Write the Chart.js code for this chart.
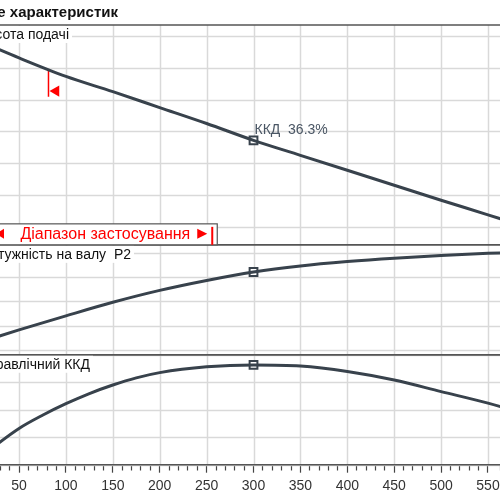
<!DOCTYPE html>
<html>
<head>
<meta charset="utf-8">
<script src="https://cdn.jsdelivr.net/npm/chart.js@4.4.1/dist/chart.umd.min.js"></script>
<style>
  html, body { margin: 0; padding: 0; background: #fff; overflow: hidden; }
</style>
</head>
<body>
<canvas id="c" width="500" height="500"></canvas>
<script>
// flow Q (x axis), head H, shaft power P2, hydraulic efficiency
const flowQ  = [0, 50, 100, 150, 200, 250, 300, 350, 400, 450, 500, 550, 600];
const headH  = [9.93, 9.31, 8.73, 8.25, 7.75, 7.25, 6.72, 6.25, 5.78, 5.31, 4.84, 4.38, 3.91];
const powerP = [0.521, 0.582, 0.640, 0.696, 0.745, 0.786, 0.821, 0.846, 0.864, 0.878, 0.889, 0.898, 0.905];
const effQ   = [0, 25, 50, 75, 100, 125, 150, 175, 200, 250, 300, 350, 400, 450, 500, 550, 600];
const effEta = [0, 7.0, 13.2, 18.0, 22.2, 25.9, 29.0, 31.6, 33.5, 35.6, 36.3, 35.9, 33.9, 30.8, 26.6, 22.4, 17.5];

// duty point
const dutyQ = 300;
const dutyH = 6.72;
const dutyP = 0.821;
const dutyEta = 36.3;

// application range markers
const rangeStartQ = 81.4;
const rangeStartH = [8.94, 8.09];
const rangeArrow = { x: 89.4, y: 8.27 };
const rangeEndQ = 256;

const chartTitle = 'Поле характеристик';
const panelLabels = ['Висота подачі', 'Потужність на валу  P2', 'Гідравлічний ККД'];
const rangeLabel = 'Діапазон застосування';

const family = "'Liberation Sans', Arial, sans-serif";
const curveColor = '#38424c';
const gridColor = '#d9d9d9';
const panelIds = ['yH', 'yP', 'yE'];

const pts = (xs, ys) => xs.map((x, i) => ({ x: x, y: ys[i] }));

const curve = (data, axis) => ({
  data: data,
  yAxisID: axis,
  borderColor: curveColor,
  borderWidth: 3,
  pointRadius: 0,
  cubicInterpolationMode: 'monotone',
  fill: false
});

const duty = (y, axis) => ({
  data: [{ x: dutyQ, y: y }],
  yAxisID: axis,
  showLine: false,
  pointStyle: 'rect',
  pointRadius: 5.5,
  pointBackgroundColor: '#fff',
  pointBorderColor: curveColor,
  pointBorderWidth: 2
});

const yPanel = (weight, order, min, max, step) => ({
  type: 'linear', position: 'left', stack: 'panels', stackWeight: weight, weight: order,
  min: min, max: max,
  ticks: { display: false, stepSize: step, includeBounds: false },
  grid: { display: false, drawTicks: false },
  border: { display: false }
});

const overlay = {
  id: 'overlay',
  // grid under the curves, taken from the scales' own ticks
  beforeDatasetsDraw(chart) {
    const { ctx, chartArea, scales } = chart;
    ctx.save();
    ctx.strokeStyle = gridColor;
    ctx.lineWidth = 1.5;
    panelIds.forEach(id => {
      const s = scales[id];
      s.ticks.forEach(t => {
        const py = Math.round(s.getPixelForValue(t.value)) + 0.5;
        ctx.beginPath();
        ctx.moveTo(0, py);
        ctx.lineTo(chart.width, py);
        ctx.stroke();
      });
    });
    scales.x.ticks.forEach(t => {
      if (t.value % 50 !== 0) return;
      const px = Math.round(scales.x.getPixelForValue(t.value)) + 0.5;
      ctx.beginPath();
      ctx.moveTo(px, chartArea.top);
      ctx.lineTo(px, chartArea.bottom);
      ctx.stroke();
    });
    ctx.restore();
  },
  afterDraw(chart) {
    const { ctx, chartArea, scales } = chart;
    const x = scales.x;
    ctx.save();

    // panel frames
    ctx.strokeStyle = '#555';
    ctx.lineWidth = 1.5;
    panelIds.forEach(id => {
      const s = scales[id];
      [s.top, s.bottom].forEach(py => {
        ctx.beginPath();
        ctx.moveTo(0, py);
        ctx.lineTo(chart.width, py);
        ctx.stroke();
      });
    });

    // title
    ctx.fillStyle = '#111';
    ctx.font = 'bold 15px ' + family;
    ctx.textAlign = 'right';
    ctx.textBaseline = 'middle';
    ctx.fillText(chartTitle, chartArea.left + 118, chartArea.top - 12);

    // panel labels on white
    const labelRight = [69, 131, 90];
    panelIds.forEach((id, i) => {
      const top = scales[id].top;
      ctx.font = '14px ' + family;
      const w = ctx.measureText(panelLabels[i]).width;
      ctx.fillStyle = '#fff';
      ctx.fillRect(chartArea.left + labelRight[i] - w - 3, top + 1, w + 6, 17);
      ctx.fillStyle = '#111';
      ctx.fillText(panelLabels[i], chartArea.left + labelRight[i], top + 10);
    });

    // application range box
    const bar = x.getPixelForValue(rangeEndQ);
    const boxBottom = scales.yH.bottom;
    ctx.fillStyle = '#fff';
    ctx.fillRect(-5, boxBottom - 21, bar + 10, 21);
    ctx.strokeStyle = '#555';
    ctx.lineWidth = 1.2;
    ctx.strokeRect(-5, boxBottom - 21, bar + 10, 21);
    ctx.fillStyle = '#f00';
    ctx.font = '16px ' + family;
    ctx.fillText(rangeLabel, bar - 22, boxBottom - 10);
    ctx.beginPath();
    ctx.moveTo(bar - 5, boxBottom - 11);
    ctx.lineTo(bar - 15, boxBottom - 16);
    ctx.lineTo(bar - 15, boxBottom - 6);
    ctx.closePath();
    ctx.fill();
    ctx.beginPath();
    ctx.moveTo(-4, boxBottom - 11);
    ctx.lineTo(4, boxBottom - 16);
    ctx.lineTo(4, boxBottom - 6);
    ctx.closePath();
    ctx.fill();
    ctx.fillRect(bar - 1, boxBottom - 18, 2, 18);

    // efficiency note at the duty point
    const p = chart.getDatasetMeta(3).data[0];
    ctx.fillStyle = '#4a5664';
    ctx.font = '14px ' + family;
    ctx.textAlign = 'left';
    ctx.fillText('ККД  ' + dutyEta + '%', p.x + 1, p.y - 10);

    ctx.restore();
  }
};

new Chart(document.getElementById('c'), {
  type: 'line',
  data: {
    datasets: [
      curve(pts(flowQ, headH), 'yH'),
      curve(pts(flowQ, powerP), 'yP'),
      curve(pts(effQ, effEta), 'yE'),
      duty(dutyH, 'yH'),
      duty(dutyP, 'yP'),
      duty(dutyEta, 'yE'),
      {
        data: rangeStartH.map(h => ({ x: rangeStartQ, y: h })),
        yAxisID: 'yH',
        borderColor: '#f00',
        borderWidth: 1.5,
        pointRadius: 0
      },
      {
        data: [rangeArrow],
        yAxisID: 'yH',
        showLine: false,
        pointStyle: 'triangle',
        pointRotation: -90,
        pointRadius: 6.5,
        pointBackgroundColor: '#f00',
        pointBorderColor: '#f00',
        pointBorderWidth: 0
      }
    ]
  },
  options: {
    responsive: false,
    animation: false,
    events: [],
    layout: { autoPadding: false, padding: { top: 25, left: 0, right: 0, bottom: 0 } },
    plugins: { legend: { display: false }, tooltip: { enabled: false } },
    scales: {
      x: {
        type: 'linear',
        min: 29.7,
        max: 562.8,
        ticks: {
          stepSize: 10,
          autoSkip: false,
          maxRotation: 0,
          padding: 0,
          color: '#333',
          font: { size: 14, family: family, lineHeight: 1.95 },
          callback: v => (v % 50 === 0 ? String(v) : '')
        },
        grid: {
          drawOnChartArea: false,
          tickLength: 8,
          tickColor: '#444',
          tickWidth: 1.2,
          tickBorderDash: c => (c.tick && c.tick.value % 50 === 0 ? [] : [5, 20])
        },
        border: { color: '#444', width: 1.5 }
      },
      yH: yPanel(2, 3, 3.4375, 10.344, 1),
      yP: yPanel(1, 2, 0.4794, 0.933, 0.1),
      yE: yPanel(1, 1, 0, 40, 10)
    }
  },
  plugins: [overlay]
});
</script>
</body>
</html>
